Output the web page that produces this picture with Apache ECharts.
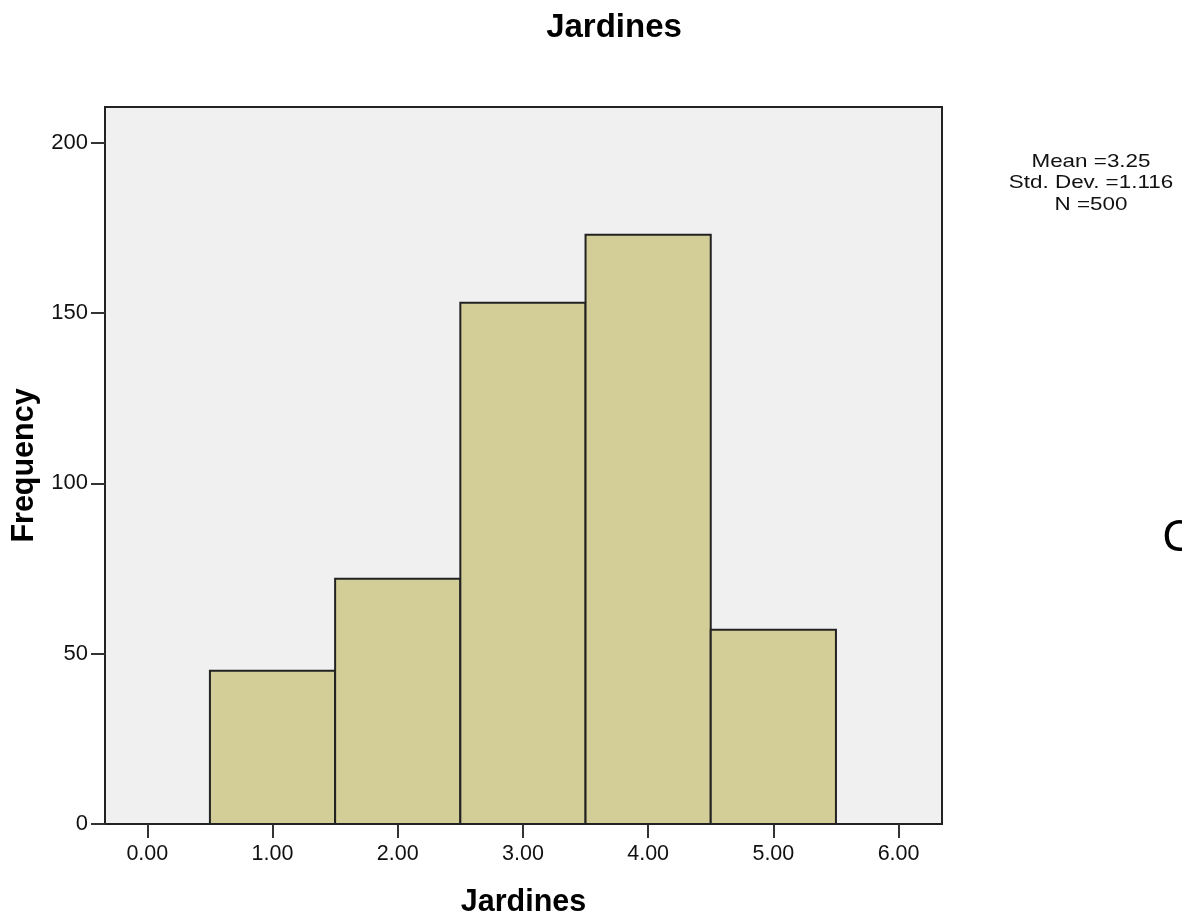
<!DOCTYPE html>
<html>
<head>
<meta charset="utf-8">
<script src="https://cdn.jsdelivr.net/npm/echarts@6/dist/echarts.min.js"></script>
<style>html,body{margin:0;padding:0;background:#fff;}#c{width:1182px;height:918px;}</style>
</head>
<body>
<div id="c"></div>
<script>
const binCenters = [1, 2, 3, 4, 5];
const frequencies = [45, 72, 153, 173, 57];
const xTicks = [0, 1, 2, 3, 4, 5, 6];
const yTicks = [0, 50, 100, 150, 200];
const statLines = ['Mean =3.25', 'Std. Dev. =1.116', 'N =500'];

const chart = echarts.init(document.getElementById('c'));
const data = binCenters.map((c, i) => [c - 0.5, c + 0.5, frequencies[i]]);
const font = '"Liberation Sans", Arial, sans-serif';

chart.setOption({
  animation: false,
  backgroundColor: '#ffffff',
  title: {
    text: 'Jardines', left: 614, top: 11, textAlign: 'center', padding: 0,
    textStyle: { fontFamily: font, fontSize: 33, fontWeight: 'bold', color: '#000' }
  },
  grid: {
    left: 105, right: 240, top: 107, bottom: 94,
    outerBoundsMode: 'none', containLabel: false,
    show: true, backgroundColor: '#f0f0f0', borderColor: '#222', borderWidth: 2
  },
  xAxis: {
    type: 'value', min: -0.338, max: 6.347,
    name: 'Jardines', nameLocation: 'middle', nameGap: 63,
    nameTextStyle: { fontFamily: font, fontSize: 30.5, fontWeight: 'bold', color: '#000' },
    axisLine: { show: false, onZero: false },
    splitLine: { show: false },
    axisTick: { show: true, length: 14, customValues: xTicks, lineStyle: { color: '#333', width: 2 } },
    axisLabel: { customValues: xTicks, formatter: v => v.toFixed(2), margin: 19,
      fontFamily: font, fontSize: 21.5, color: '#111' }
  },
  yAxis: {
    type: 'value', min: 0, max: 210.5, interval: 50,
    name: 'Frequency', nameLocation: 'middle', nameGap: 62, nameRotate: 90,
    nameTextStyle: { fontFamily: font, fontSize: 30.5, fontWeight: 'bold', color: '#000' },
    axisLine: { show: false, onZero: false },
    splitLine: { show: false },
    axisTick: { show: true, length: 14, customValues: yTicks, lineStyle: { color: '#333', width: 2 } },
    axisLabel: { customValues: yTicks, margin: 17, fontFamily: font, fontSize: 22, color: '#111' }
  },
  graphic: [
    { type: 'text', x: 1091, y: 151, scaleX: 1.18, scaleY: 1, style: { text: statLines.join('\n'),
      align: 'center', verticalAlign: 'top', fontFamily: font, fontSize: 19, lineHeight: 21.5, fill: '#111' } },
    { type: 'text', x: 1162, y: 516, style: { text: 'C', fontFamily: '"Noto Sans", sans-serif',
      fontSize: 44, fill: '#000' } }
  ],
  series: [{
    type: 'custom',
    data: data,
    encode: { x: [0, 1], y: 2 },
    renderItem: function (params, api) {
      const p0 = api.coord([api.value(0), api.value(2)]);
      const p1 = api.coord([api.value(1), 0]);
      return {
        type: 'rect',
        shape: { x: p0[0], y: p0[1], width: p1[0] - p0[0], height: p1[1] - p0[1] },
        style: { fill: '#d3ce97', stroke: '#222', lineWidth: 2 }
      };
    }
  }]
});
</script>
</body>
</html>
